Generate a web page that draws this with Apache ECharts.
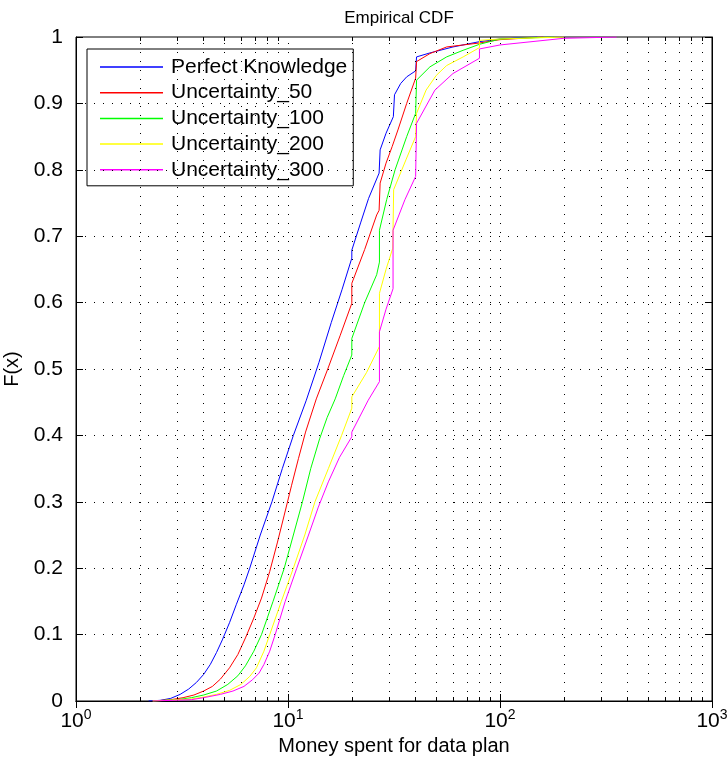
<!DOCTYPE html>
<html>
<head>
<meta charset="utf-8">
<script src="https://cdn.jsdelivr.net/npm/echarts@6/dist/echarts.min.js"></script>
<style>
  html, body { margin: 0; padding: 0; background: #fff; }
  #chart { width: 728px; height: 768px; }
</style>
</head>
<body>
<div id="chart"></div>
<script>
// Empirical CDFs of money spent on a data plan, one per knowledge scenario.
const seriesNames = ['Perfect Knowledge', 'Uncertainty_50', 'Uncertainty_100', 'Uncertainty_200', 'Uncertainty_300'];
const seriesColors = ['#0000ff', '#ff0000', '#00ff00', '#ffff00', '#ff00ff'];

const perfectX = [2.2, 2.5, 2.8, 3.1, 3.4, 3.7, 4.0, 4.3, 4.6, 4.9, 5.3, 5.7, 6.2, 6.6, 7.4, 8.4, 9.4, 10.6, 12.2, 14, 16, 18, 20, 20, 22, 24, 26.9, 27.2, 29, 31.4, 31.8, 34, 36.3, 40, 40.4, 46.7, 60, 80, 100, 150];
const perfectF = [0, 0.001, 0.004, 0.01, 0.018, 0.028, 0.04, 0.055, 0.073, 0.092, 0.118, 0.145, 0.175, 0.2, 0.25, 0.3, 0.35, 0.4, 0.453, 0.51, 0.57, 0.62, 0.667, 0.679, 0.72, 0.757, 0.795, 0.83, 0.855, 0.88, 0.913, 0.93, 0.94, 0.949, 0.97, 0.976, 0.985, 0.993, 0.997, 1.0];

const unc50X = [2.3, 2.8, 3.2, 3.6, 4.0, 4.4, 4.8, 5.3, 5.8, 6.3, 6.9, 7.5, 8.2, 8.9, 9.6, 10.4, 11.2, 12.1, 13.6, 15.4, 17.6, 20, 20, 23, 26.2, 26.9, 27.2, 29, 31, 33, 36.3, 40, 40.4, 46.7, 56, 80, 100, 160];
const unc50F = [0, 0.002, 0.005, 0.009, 0.015, 0.022, 0.033, 0.05, 0.07, 0.095, 0.125, 0.155, 0.195, 0.238, 0.28, 0.325, 0.365, 0.405, 0.455, 0.5, 0.55, 0.599, 0.629, 0.68, 0.732, 0.739, 0.78, 0.81, 0.835, 0.86, 0.9, 0.938, 0.963, 0.975, 0.985, 0.991, 0.996, 1.0];

const unc100X = [2.3, 3.0, 3.5, 4.0, 4.6, 5.2, 5.8, 6.3, 6.9, 7.5, 8.5, 9.6, 10.6, 11.7, 12.8, 14.1, 15.3, 16.7, 18.3, 20, 20, 23, 26.2, 27, 27, 29.2, 32, 36.3, 40, 40.4, 46.7, 56, 67, 80, 100, 180];
const unc100F = [0, 0.002, 0.005, 0.009, 0.015, 0.025, 0.038, 0.053, 0.075, 0.1, 0.15, 0.2, 0.25, 0.3, 0.35, 0.395, 0.427, 0.455, 0.49, 0.521, 0.546, 0.6, 0.642, 0.661, 0.709, 0.755, 0.8, 0.85, 0.885, 0.935, 0.955, 0.97, 0.98, 0.989, 0.997, 1.0];

const unc200X = [2.3, 3.5, 4.0, 4.6, 5.3, 6.0, 6.6, 7.1, 7.7, 8.2, 9.3, 10.6, 12.0, 13.4, 15.5, 17.9, 20, 20, 23.5, 27, 27, 29, 31.2, 31.5, 36, 40, 40.4, 44.8, 50, 56, 67, 80, 80, 100, 200];
const unc200F = [0, 0.003, 0.006, 0.01, 0.016, 0.025, 0.037, 0.05, 0.075, 0.1, 0.15, 0.2, 0.25, 0.3, 0.35, 0.4, 0.441, 0.458, 0.495, 0.534, 0.614, 0.65, 0.682, 0.77, 0.815, 0.85, 0.885, 0.92, 0.942, 0.957, 0.97, 0.984, 0.995, 0.997, 1.0];

const unc300X = [2.3, 3.5, 4.0, 4.8, 5.5, 6.2, 6.8, 7.3, 7.7, 8.2, 8.7, 9.7, 11, 12.5, 13.9, 15.5, 17.5, 20, 20, 23.9, 27, 27, 29, 31.3, 31.3, 35.6, 40, 40.4, 49.3, 60, 80, 80, 100, 200, 355];
const unc300F = [0, 0.002, 0.005, 0.01, 0.015, 0.022, 0.032, 0.042, 0.055, 0.075, 0.1, 0.15, 0.2, 0.25, 0.292, 0.33, 0.367, 0.398, 0.405, 0.453, 0.481, 0.556, 0.59, 0.621, 0.709, 0.755, 0.79, 0.87, 0.92, 0.945, 0.968, 0.982, 0.988, 0.998, 1.0];

// Log-axis minor positions (dotted grid + small ticks) and decades
const minorX = [2, 3, 4, 5, 6, 7, 8, 9, 20, 30, 40, 50, 60, 70, 80, 90, 200, 300, 400, 500, 600, 700, 800, 900];
const innerDecades = [10, 100];
const yGridValues = [0.1, 0.2, 0.3, 0.4, 0.5, 0.6, 0.7, 0.8, 0.9];

const FONT = '"Liberation Sans", Arial, Helvetica, sans-serif';
const curves = [[perfectX, perfectF], [unc50X, unc50F], [unc100X, unc100F], [unc200X, unc200F], [unc300X, unc300F]];

const zip = (xs, ys) => xs.map((x, i) => [x, ys[i]]);
const dotted = { color: '#000', width: 1, type: [1, 8] };

const gridLines = [];
minorX.concat(innerDecades).forEach(v => gridLines.push({ xAxis: v }));
yGridValues.forEach(v => gridLines.push({ yAxis: v }));

// short tick marks on bottom and top edges at minor log positions
const minorTicks = [];
minorX.forEach(v => {
  minorTicks.push([{ coord: [v, 0] }, { coord: [v, 0.006] }]);
  minorTicks.push([{ coord: [v, 1] }, { coord: [v, 0.994] }]);
});

const series = [{
  type: 'line', data: [], silent: true, z: 1,
  markLine: { silent: true, symbol: 'none', label: { show: false }, lineStyle: dotted, animation: false, data: gridLines }
}, {
  type: 'line', data: [], silent: true, z: 1,
  markLine: { silent: true, symbol: 'none', label: { show: false }, lineStyle: { color: '#000', width: 1, type: 'solid' }, animation: false, data: minorTicks }
}];
curves.forEach((c, i) => {
  series.push({
    name: seriesNames[i], type: 'line', data: zip(c[0], c[1]),
    showSymbol: false, symbol: 'none', z: 3 + i,
    lineStyle: { color: seriesColors[i], width: 1 }, itemStyle: { color: seriesColors[i] },
    animation: false
  });
});

const xLabel = {
  color: '#000', margin: 7, fontFamily: FONT,
  formatter: v => '{b|10}{s|' + Math.round(Math.log10(v)) + '}',
  rich: {
    b: { fontSize: 21, fontFamily: FONT, color: '#000' },
    s: { fontSize: 14, fontFamily: FONT, color: '#000', padding: [0, 0, 12, 0] }
  }
};

const chart = echarts.init(document.getElementById('chart'), null, { renderer: 'canvas' });
chart.setOption({
  animation: false,
  backgroundColor: '#fff',
  title: {
    text: 'Empirical CDF', left: 394, top: 5, textAlign: 'center',
    textStyle: { fontSize: 17, fontWeight: 'normal', color: '#000', fontFamily: FONT }
  },
  grid: {
    left: 76, right: 16, top: 37, bottom: 67, containLabel: false, outerBoundsMode: 'none',
    show: true, borderColor: '#000', borderWidth: 1, backgroundColor: '#fff'
  },
  legend: {
    orient: 'vertical', left: 87, top: 49, padding: [6, 6, 4, 13],
    icon: 'rect', itemWidth: 63, itemHeight: 1.5, itemGap: 1.7,
    backgroundColor: '#fff', borderColor: '#000', borderWidth: 1,
    textStyle: { fontSize: 21, color: '#000', fontFamily: FONT, lineHeight: 24, padding: [0, 0, 0, 3] },
    data: seriesNames
  },
  xAxis: [{
    type: 'log', logBase: 10, min: 1, max: 1000, position: 'bottom',
    name: 'Money spent for data plan', nameLocation: 'middle', nameGap: 33,
    nameTextStyle: { fontSize: 20, color: '#000', fontFamily: FONT },
    axisLine: { show: true, lineStyle: { color: '#000' } },
    axisTick: { show: true, inside: true, length: 7, lineStyle: { color: '#000' } },
    axisLabel: xLabel,
    splitLine: { show: false }, minorTick: { show: false }
  }, {
    type: 'log', logBase: 10, min: 1, max: 1000, position: 'top',
    axisLine: { show: true, lineStyle: { color: '#000' } },
    axisTick: { show: true, inside: true, length: 7, lineStyle: { color: '#000' } },
    axisLabel: { show: false }, splitLine: { show: false }
  }],
  yAxis: [{
    type: 'value', min: 0, max: 1, interval: 0.1, position: 'left',
    name: 'F(x)', nameLocation: 'middle', nameRotate: 90, nameGap: 48,
    nameTextStyle: { fontSize: 20, color: '#000', fontFamily: FONT },
    axisLine: { show: true, lineStyle: { color: '#000' } },
    axisTick: { show: true, inside: true, length: 7, lineStyle: { color: '#000' } },
    axisLabel: { color: '#000', fontSize: 21, fontFamily: FONT, margin: 13 },
    splitLine: { show: false }
  }, {
    type: 'value', min: 0, max: 1, interval: 0.1, position: 'right',
    axisLine: { show: true, lineStyle: { color: '#000' } },
    axisTick: { show: true, inside: true, length: 7, lineStyle: { color: '#000' } },
    axisLabel: { show: false }, splitLine: { show: false }
  }],
  series: series
});
</script>
</body>
</html>
